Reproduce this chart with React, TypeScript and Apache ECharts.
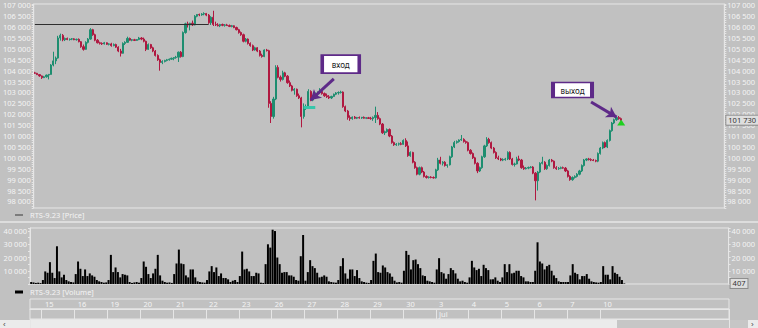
import React, { useEffect, useRef } from 'react';
import * as echarts from 'echarts';

// Trading days shown on the time scale (first and last are partial)
const dayNames = ['14', '15', '16', '19', '20', '21', '22', '23', '26', '27', '28', '29', '30', '3', '4', '5', '6', '7', '10'];
const dayMonths = ['Jun', 'Jun', 'Jun', 'Jun', 'Jun', 'Jun', 'Jun', 'Jun', 'Jun', 'Jun', 'Jun', 'Jun', 'Jun', 'Jul', 'Jul', 'Jul', 'Jul', 'Jul', 'Jul'];
const dayBars = [5, 14, 14, 14, 14, 14, 14, 14, 14, 14, 14, 14, 14, 14, 14, 14, 14, 14, 11];
const futureSlots = 44;

// Hourly candles: [open, close, low, high]
const ohlc: number[][] = [
  // Jun 14
  [103900, 103880, 103850, 103950], [103880, 103820, 103800, 103900], [103820, 103760, 103720, 103840], [103760, 103680, 103620, 103780], [103680, 103720, 103660, 103760],
  // Jun 15
  [103720, 103800, 103680, 103820], [103800, 103830, 103600, 103850], [103830, 104260, 103820, 104300], [104260, 104450, 104200, 104870], [104450, 104580, 104300, 104650], [104580, 105500, 104550, 105600], [105500, 105620, 105380, 105700],
  [105620, 105420, 105350, 105680], [105420, 105480, 105360, 105520], [105480, 105430, 105400, 105520], [105430, 105450, 105380, 105480], [105450, 105460, 105400, 105500], [105460, 105420, 105400, 105490], [105420, 105440, 105380, 105470],
  // Jun 16
  [105440, 105330, 105300, 105480], [105330, 105100, 105050, 105360], [105100, 104980, 104920, 105200], [104980, 105300, 104960, 105350], [105300, 105450, 105250, 105500], [105450, 105880, 105420, 105950], [105880, 105650, 105600, 105920],
  [105650, 105400, 105350, 105700], [105400, 105280, 105250, 105450], [105280, 105250, 105200, 105330], [105250, 105230, 105180, 105300], [105230, 105280, 105200, 105320], [105280, 105210, 105180, 105300], [105210, 105230, 105160, 105260],
  // Jun 19
  [105230, 105150, 105100, 105280], [105150, 105200, 105120, 105250], [105200, 105080, 105050, 105240], [105080, 104900, 104850, 105120], [104900, 104800, 104650, 105000], [104800, 105250, 104780, 105300], [105250, 105300, 105180, 105350],
  [105300, 105480, 105280, 105560], [105480, 105400, 105380, 105520], [105400, 105420, 105350, 105450], [105420, 105390, 105360, 105460], [105390, 105430, 105370, 105450], [105430, 105500, 105400, 105550], [105500, 105450, 105400, 105540],
  // Jun 20
  [105450, 105350, 105300, 105520], [105350, 104980, 104900, 105380], [104980, 105200, 104950, 105250], [105200, 105050, 105000, 105230], [105050, 104900, 104850, 105100], [104900, 104700, 104650, 104950], [104700, 104500, 104450, 104750],
  [104500, 104380, 104000, 104550], [104380, 104420, 104300, 104480], [104420, 104470, 104380, 104500], [104470, 104500, 104430, 104540], [104500, 104530, 104460, 104560], [104530, 104570, 104500, 104600], [104570, 104600, 104480, 104620],
  // Jun 21
  [104600, 104620, 104550, 104680], [104620, 104850, 104400, 104880], [104850, 104650, 104600, 104900], [104650, 105750, 104620, 105800], [105750, 106150, 105700, 106200], [106150, 106100, 105980, 106250], [106100, 106180, 105850, 106200],
  [106180, 106100, 106050, 106300], [106100, 106500, 106080, 106550], [106500, 106580, 106450, 106600], [106580, 106560, 106500, 106620], [106560, 106600, 106520, 106640], [106600, 106620, 106540, 106680], [106620, 106550, 106500, 106650],
  // Jun 22
  [106550, 106200, 106150, 106600], [106200, 106450, 106100, 106500], [106450, 106120, 106050, 106750], [106120, 106100, 106050, 106250], [106100, 106060, 106030, 106180], [106060, 106120, 106000, 106150], [106120, 106080, 106040, 106160],
  [106080, 106100, 106020, 106140], [106100, 106070, 106050, 106150], [106070, 106030, 106000, 106120], [106030, 106060, 105990, 106100], [106060, 105980, 105950, 106080], [105980, 105880, 105850, 106020], [105880, 105750, 105700, 105920],
  // Jun 23
  [105750, 105650, 105600, 105800], [105650, 105350, 105300, 105700], [105350, 105450, 105300, 105500], [105450, 105250, 105200, 105480], [105250, 105150, 105100, 105300], [105150, 104950, 104900, 105200], [104950, 105050, 104920, 105100],
  [105050, 104900, 104850, 105080], [104900, 104700, 104650, 104950], [104700, 104650, 104600, 104780], [104650, 104950, 104620, 104980], [104950, 104920, 104880, 105000], [104920, 102500, 102300, 104960], [102500, 101900, 101600, 102600],
  // Jun 26
  [101900, 102700, 101800, 102800], [102700, 104150, 102650, 104250], [104150, 103700, 103650, 104250], [103700, 103600, 103500, 103780], [103600, 103900, 103550, 104000], [103900, 103750, 103700, 103950], [103750, 103450, 103400, 103800],
  [103450, 103300, 103250, 103550], [103300, 103100, 103050, 103350], [103100, 103150, 102900, 103200], [103150, 102850, 102800, 103180], [102850, 102750, 102700, 102950], [102750, 101900, 101400, 102800], [101900, 102300, 101800, 102500],
  // Jun 27
  [102300, 102350, 102200, 102450], [102350, 103050, 102300, 103150], [103050, 102650, 102600, 103100], [102650, 102800, 102600, 102850], [102800, 102950, 102750, 103000], [102950, 103000, 102850, 103050], [103000, 103050, 102950, 103200],
  [103050, 102950, 102900, 103100], [102950, 102850, 102800, 103000], [102850, 102800, 102750, 102950], [102800, 102750, 102700, 102880], [102750, 102820, 102700, 102850], [102820, 102920, 102800, 102950], [102920, 102980, 102880, 103020],
  // Jun 28
  [102980, 103000, 102900, 103050], [103000, 103020, 102950, 103080], [103020, 102350, 102300, 103050], [102350, 102150, 102100, 102400], [102150, 101850, 101750, 102200], [101850, 101800, 101700, 101950], [101800, 101870, 101750, 101900],
  [101870, 101820, 101780, 101920], [101820, 101850, 101780, 101880], [101850, 101830, 101800, 101900], [101830, 101860, 101790, 101880], [101860, 101820, 101800, 101900], [101820, 101840, 101780, 101870], [101840, 101810, 101790, 101880],
  // Jun 29
  [101810, 101800, 101750, 101880], [101800, 101850, 101700, 101900], [101850, 101950, 101600, 102350], [101950, 101800, 101750, 102100], [101800, 101550, 101500, 101850], [101550, 101150, 101100, 101600], [101150, 101200, 101050, 101250],
  [101200, 101300, 101150, 101350], [101300, 101000, 100950, 101350], [101000, 100700, 100650, 101050], [100700, 100600, 100550, 100750], [100600, 100630, 100550, 100680], [100630, 100650, 100560, 100700], [100650, 100620, 100580, 100720],
  // Jun 30
  [100620, 100800, 100600, 100850], [100800, 100550, 100500, 100900], [100550, 100100, 100050, 100750], [100100, 100250, 100050, 100300], [100250, 99800, 99750, 100280], [99800, 99550, 99500, 99850], [99550, 99250, 99200, 99600],
  [99250, 99550, 99200, 99600], [99550, 99350, 99300, 99600], [99350, 99150, 99100, 99400], [99150, 99100, 99050, 99200], [99100, 99120, 99050, 99150], [99120, 99100, 99060, 99160], [99100, 99080, 99050, 99150],
  // Jul 3
  [99080, 99450, 99050, 99500], [99450, 99900, 99400, 100000], [99900, 99750, 99700, 100050], [99750, 99800, 99650, 99850], [99800, 99650, 99600, 99850], [99650, 99680, 99550, 99700], [99680, 100050, 99650, 100100],
  [100050, 100500, 100000, 100550], [100500, 100700, 100450, 100780], [100700, 100750, 100650, 100800], [100750, 100820, 100700, 100850], [100820, 100850, 100780, 101050], [100850, 100750, 100700, 100900], [100750, 100700, 100650, 100800],
  // Jul 4
  [100700, 100350, 100300, 100750], [100350, 100200, 100150, 100400], [100200, 100000, 99950, 100250], [100000, 99750, 99700, 100050], [99750, 99400, 99300, 99800], [99400, 99550, 99350, 99600], [99550, 100050, 99500, 100100],
  [100050, 100550, 100000, 100600], [100550, 100850, 100500, 100950], [100850, 100700, 100650, 100920], [100700, 100450, 100400, 100750], [100450, 100250, 100200, 100500], [100250, 100000, 99950, 100300], [100000, 99950, 99900, 100100],
  // Jul 5
  [99950, 99900, 99850, 100000], [99900, 99920, 99850, 99980], [99920, 99950, 99870, 100000], [99950, 100250, 99900, 100300], [100250, 99950, 99900, 100300], [99950, 99700, 99650, 100000], [99700, 99720, 99600, 99780],
  [99720, 99950, 99700, 100050], [99950, 99900, 99850, 100100], [99900, 99550, 99500, 99950], [99550, 99500, 99450, 99650], [99500, 99530, 99470, 99580], [99530, 99560, 99480, 99600], [99560, 99580, 99520, 99620],
  // Jul 6
  [99580, 99300, 99250, 99620], [99300, 98950, 98050, 99350], [98950, 99350, 98500, 99400], [99350, 99750, 99300, 99800], [99750, 99800, 99700, 100050], [99800, 99500, 99450, 99850], [99500, 99650, 99450, 99700],
  [99650, 99900, 99600, 99950], [99900, 99850, 99800, 99950], [99850, 99550, 99500, 99880], [99550, 99500, 99450, 99620], [99500, 99520, 99450, 99580], [99520, 99550, 99480, 99600], [99550, 99530, 99500, 99600],
  // Jul 7
  [99530, 99400, 99350, 99580], [99400, 99150, 99100, 99450], [99150, 99000, 98950, 99200], [99000, 99100, 98950, 99150], [99100, 99150, 99050, 99200], [99150, 99250, 99100, 99300], [99250, 99400, 99200, 99450],
  [99400, 99650, 99350, 99700], [99650, 99900, 99600, 99950], [99900, 99950, 99850, 99980], [99950, 99920, 99880, 100000], [99920, 99900, 99850, 99980], [99900, 99880, 99850, 99950], [99880, 99850, 99800, 99920],
  // Jul 10
  [99850, 100200, 99800, 100250], [100200, 100450, 100150, 100500], [100450, 100700, 100400, 100750], [100700, 100500, 100450, 100750], [100500, 100800, 100450, 100850], [100800, 101250, 100750, 101300],
  [101250, 101600, 101200, 101650], [101600, 101750, 101550, 101800], [101750, 101850, 101700, 101900], [101850, 101800, 101750, 101920], [101800, 101730, 101700, 101850],
];

const volume: number[] = [
  1500, 1200, 800, 1000, 700,
  3000, 9500, 8500, 16500, 8500, 4500, 28500, 9500, 5000, 7000, 3000, 2000, 1500, 1200,
  7500, 17000, 11500, 6000, 11000, 6000, 8000, 6500, 5500, 3000, 2000, 1500, 1000, 1200,
  3000, 22000, 9000, 12500, 9000, 5000, 7500, 7000, 6500, 1500, 800, 1200, 1500, 1000,
  4500, 17000, 13000, 7500, 4500, 8000, 11500, 22000, 6500, 2500, 1500, 1000, 1200, 800,
  7500, 15500, 26000, 15500, 15000, 6500, 5000, 11000, 11000, 5000, 2000, 1500, 1200, 1000,
  3000, 9500, 13500, 9000, 12500, 6000, 8000, 4500, 4500, 3500, 1500, 2500, 3000, 1500,
  6000, 24500, 11000, 11500, 9500, 6000, 6000, 8500, 8000, 1000, 800, 15000, 30000, 27500,
  41000, 40000, 20000, 15000, 8500, 9000, 9000, 6500, 6500, 5500, 3000, 2500, 21000, 37000,
  2500, 9000, 18000, 13500, 12000, 8500, 5000, 5500, 6500, 5500, 2000, 1500, 1200, 1000,
  3000, 13500, 19500, 8000, 4000, 11000, 11000, 6000, 10500, 4500, 2000, 1500, 1000, 800,
  3000, 17500, 23000, 9000, 8500, 14000, 12500, 9000, 8000, 5500, 2500, 1200, 1500, 1000,
  10000, 25000, 22000, 11000, 18000, 18500, 15000, 12000, 6500, 6000, 2500, 2000, 1500, 1000,
  11000, 19500, 9000, 8000, 4000, 7500, 12000, 10500, 8000, 4000, 2000, 2500, 1500, 1000,
  5000, 17500, 12500, 10500, 11500, 6000, 14500, 12000, 10500, 3500, 3500, 5000, 2500, 1500,
  5000, 15000, 9000, 15000, 8000, 8500, 10000, 10000, 6000, 5000, 2000, 2000, 1500, 1500,
  10000, 31500, 17000, 15500, 11000, 13500, 14500, 10000, 6500, 4500, 2000, 1500, 1500, 1500,
  1500, 6500, 15000, 8500, 7500, 3500, 6000, 6000, 7500, 4000, 2000, 1500, 1200, 1000,
  1500, 13500, 7000, 7000, 3500, 13500, 8500, 7500, 5500, 3000, 407,
];

// Annotation anchors: [bar index, price]
const levelLine = { from: 0, to: 75, price: 106150 };
const entryLine = { from: 116, to: 121, price: 102330 };
const entryArrow = [[129, 103620], [119, 102650]];
const exitArrow = [[240, 102560], [251, 101870]];
const entryBox = [132, 104300];
const exitBox = [232, 103110];
const exitMark = [253, 101620];

const PRICE_MIN = 97700;
const PRICE_MAX = 107060;
const VOL_MAX = 42300;

const fmt = (v: number) => String(Math.round(v)).replace(/\B(?=(\d{3})+(?!\d))/g, ' ');

export default function App() {
  const ref = useRef<HTMLDivElement>(null);
  useEffect(() => {
    if (!ref.current) return;
    const chart = echarts.init(ref.current, undefined, { renderer: 'svg' });

    const categories: string[] = [];
    const dayStart: Record<number, string> = {};
    const monthStart: Record<number, string> = {};
    let idx = 0;
    dayNames.forEach((d, di) => {
      if (di > 0) dayStart[idx] = d;
      if (di > 0 && dayMonths[di] !== dayMonths[di - 1]) monthStart[idx] = dayMonths[di];
      for (let k = 0; k < dayBars[di]; k++) {
        categories.push(`${dayMonths[di]} ${d} #${k}`);
        idx++;
      }
    });
    for (let i = 0; i < futureSlots; i++) categories.push(`next #${i}`);

    const frame = '#e6e6e6';
    const txt = '#f4f4f4';
    const up = '#1e8e70';
    const down = '#b01840';
    const purple = '#5e2a88';
    const lastClose = ohlc[ohlc.length - 1][1];
    const lastVol = volume[volume.length - 1];
    const font = 'Noto Sans';

    const boxLabel = {
      show: true,
      position: 'end',
      distance: 2,
      color: '#333',
      fontSize: 7.5,
      fontFamily: font,
      backgroundColor: '#dedede',
      borderColor: '#8c8c8c',
      borderWidth: 1,
      padding: [1, 2, 0, 2],
    };

    const hiddenX = (gi: number) => ({
      type: 'category', gridIndex: gi, data: categories, boundaryGap: true, show: false,
    });

    const option: any = {
      animation: false,
      backgroundColor: '#c1c1c1',
      textStyle: { fontFamily: font },
      grid: [
        { left: 30, top: 4, width: 699, height: 204, show: true, borderColor: frame, borderWidth: 1 },
        { left: 30, top: 228, width: 699, height: 56, show: true, borderColor: frame, borderWidth: 1 },
        { left: 30, top: 299, width: 699, height: 10, show: true, borderColor: frame, borderWidth: 1 },
        { left: 30, top: 309, width: 699, height: 10, show: true, borderColor: frame, borderWidth: 1 },
      ],
      legend: [
        {
          data: [{ name: 'RTS-9.23 [Price]', itemStyle: { color: '#7c7c7c', borderWidth: 0 } }],
          left: 15, top: 211, icon: 'rect', itemWidth: 8, itemHeight: 2, padding: 0, selectedMode: false,
          itemStyle: { color: '#7c7c7c', borderWidth: 0 },
          textStyle: { color: txt, fontSize: 7.5, padding: [0, 0, 0, 2] },
        },
        {
          data: [{ name: 'RTS-9.23 [Volume]', itemStyle: { color: '#000' } }],
          left: 15, top: 288, icon: 'rect', itemWidth: 8, itemHeight: 3, padding: 0, selectedMode: false,
          itemStyle: { color: '#000', borderWidth: 0 },
          textStyle: { color: txt, fontSize: 7.5, padding: [0, 0, 0, 2] },
        },
      ],
      xAxis: [
        hiddenX(0),
        hiddenX(1),
        {
          type: 'category', gridIndex: 2, data: categories, boundaryGap: true, position: 'top',
          axisLine: { show: true, lineStyle: { color: frame } },
          axisTick: { show: true, inside: true, length: 10, interval: (i: number) => dayStart[i] !== undefined, lineStyle: { color: frame } },
          axisLabel: {
            show: true, interval: (i: number) => dayStart[i] !== undefined,
            formatter: (_v: string, i: number) => dayStart[i] || '',
            margin: -9, align: 'left', padding: [0, 0, 0, 2], color: txt, fontSize: 7.5,
          },
          splitLine: { show: false },
        },
        {
          type: 'category', gridIndex: 3, data: categories, boundaryGap: true, position: 'top',
          axisLine: { show: true, lineStyle: { color: frame } },
          axisTick: { show: true, inside: true, length: 10, interval: (i: number) => monthStart[i] !== undefined, lineStyle: { color: frame } },
          axisLabel: {
            show: true, interval: (i: number) => monthStart[i] !== undefined,
            formatter: (_v: string, i: number) => monthStart[i] || '',
            margin: -9, align: 'left', padding: [0, 0, 0, 2], color: txt, fontSize: 7.5,
          },
          splitLine: { show: false },
        },
      ],
      yAxis: [
        {
          type: 'value', gridIndex: 0, position: 'left', min: PRICE_MIN, max: PRICE_MAX, interval: 100,
          axisLine: { show: true, lineStyle: { color: frame } },
          axisTick: { show: true, length: 2, lineStyle: { color: frame } },
          axisLabel: { formatter: (v: number) => (Math.round(v) % 500 === 0 ? fmt(v) : ''), color: txt, fontSize: 7.5, margin: 3 },
          splitLine: { show: false },
        },
        {
          type: 'value', gridIndex: 0, position: 'right', min: PRICE_MIN, max: PRICE_MAX, interval: 100,
          axisLine: { show: true, lineStyle: { color: frame } },
          axisTick: { show: true, length: 2, lineStyle: { color: frame } },
          axisLabel: { formatter: (v: number) => (Math.round(v) % 500 === 0 ? fmt(v) : ''), color: txt, fontSize: 7.5, margin: 3 },
          splitLine: { show: false },
        },
        {
          type: 'value', gridIndex: 1, position: 'left', min: 0, max: VOL_MAX, interval: 5000,
          axisLine: { show: true, lineStyle: { color: frame } },
          axisTick: { show: true, length: 2, lineStyle: { color: frame } },
          axisLabel: { formatter: (v: number) => (v > 0 && v % 10000 === 0 ? fmt(v) : ''), color: txt, fontSize: 7.5, margin: 3 },
          splitLine: { show: false },
        },
        {
          type: 'value', gridIndex: 1, position: 'right', min: 0, max: VOL_MAX, interval: 5000,
          axisLine: { show: true, lineStyle: { color: frame } },
          axisTick: { show: true, length: 2, lineStyle: { color: frame } },
          axisLabel: { formatter: (v: number) => (v > 0 && v % 10000 === 0 ? fmt(v) : ''), color: txt, fontSize: 7.5, margin: 3 },
          splitLine: { show: false },
        },
        { type: 'value', gridIndex: 2, show: false },
        { type: 'value', gridIndex: 3, show: false },
      ],
      graphic: [
        { type: 'line', shape: { x1: 0, y1: 222, x2: 758, y2: 222 }, style: { stroke: frame, lineWidth: 1.5 }, silent: true },
        { type: 'rect', shape: { x: 0, y: 320, width: 758, height: 8 }, style: { fill: '#ebebeb' }, silent: true },
        { type: 'rect', shape: { x: 617, y: 320, width: 131, height: 8 }, style: { fill: '#c6c6c6' }, silent: true },
        { type: 'text', x: 3, y: 320, style: { text: '‹', fill: '#444', fontSize: 8 }, silent: true },
        { type: 'text', x: 751, y: 320, style: { text: '›', fill: '#444', fontSize: 8 }, silent: true },
      ],
      series: [
        {
          name: 'RTS-9.23 [Price]',
          type: 'candlestick',
          xAxisIndex: 0, yAxisIndex: 0,
          data: ohlc,
          barWidth: '72%',
          itemStyle: { color: up, color0: down, borderColor: up, borderColor0: down, borderWidth: 1 },
          markLine: {
            silent: true, symbol: ['none', 'none'], animation: false,
            label: { show: false },
            data: [
              [
                { coord: [levelLine.from, levelLine.price], lineStyle: { color: '#2e2e2e', width: 1, type: 'solid' } },
                { coord: [levelLine.to, levelLine.price], lineStyle: { color: '#2e2e2e', width: 1, type: 'solid' } },
              ],
              [
                { coord: [entryLine.from, entryLine.price], lineStyle: { color: '#36c6aa', width: 3, type: 'solid' } },
                { coord: [entryLine.to, entryLine.price], lineStyle: { color: '#36c6aa', width: 3, type: 'solid' } },
              ],
              [
                { coord: entryArrow[0], lineStyle: { color: purple, width: 3, type: 'solid' } },
                { coord: entryArrow[1], symbol: 'arrow', symbolSize: [9, 10], lineStyle: { color: purple, width: 3, type: 'solid' } },
              ],
              [
                { coord: exitArrow[0], lineStyle: { color: purple, width: 3, type: 'solid' } },
                { coord: exitArrow[1], symbol: 'arrow', symbolSize: [9, 10], lineStyle: { color: purple, width: 3, type: 'solid' } },
              ],
              { yAxis: lastClose, lineStyle: { color: 'rgba(0,0,0,0)', width: 0 }, label: { ...boxLabel, formatter: fmt(lastClose) } },
            ],
          },
          markPoint: {
            silent: true, animation: false,
            data: [
              {
                coord: entryBox, symbol: 'rect', symbolSize: [37, 18],
                itemStyle: { color: '#ffffff', borderColor: purple, borderWidth: 2.5 },
                label: { show: true, position: 'inside', formatter: 'вход', color: '#222', fontSize: 8, fontFamily: font },
              },
              {
                coord: exitBox, symbol: 'rect', symbolSize: [39, 15],
                itemStyle: { color: '#ffffff', borderColor: purple, borderWidth: 2.5 },
                label: { show: true, position: 'inside', formatter: 'выход', color: '#222', fontSize: 8, fontFamily: font },
              },
              {
                coord: exitMark, symbol: 'triangle', symbolSize: [8, 6],
                itemStyle: { color: '#1fd01f' },
                label: { show: false },
              },
            ],
          },
        },
        {
          name: 'RTS-9.23 [Volume]',
          type: 'bar',
          xAxisIndex: 1, yAxisIndex: 2,
          data: volume,
          barWidth: '85%',
          itemStyle: { color: '#000000' },
          markLine: {
            silent: true, symbol: ['none', 'none'], animation: false,
            data: [{ yAxis: lastVol, lineStyle: { color: 'rgba(0,0,0,0)', width: 0 }, label: { ...boxLabel, formatter: String(lastVol) } }],
          },
        },
      ],
    };

    chart.setOption(option);
    return () => chart.dispose();
  }, []);

  return <div ref={ref} style={{ position: 'fixed', left: 0, top: 0, width: 758, height: 328 }} />;
}
